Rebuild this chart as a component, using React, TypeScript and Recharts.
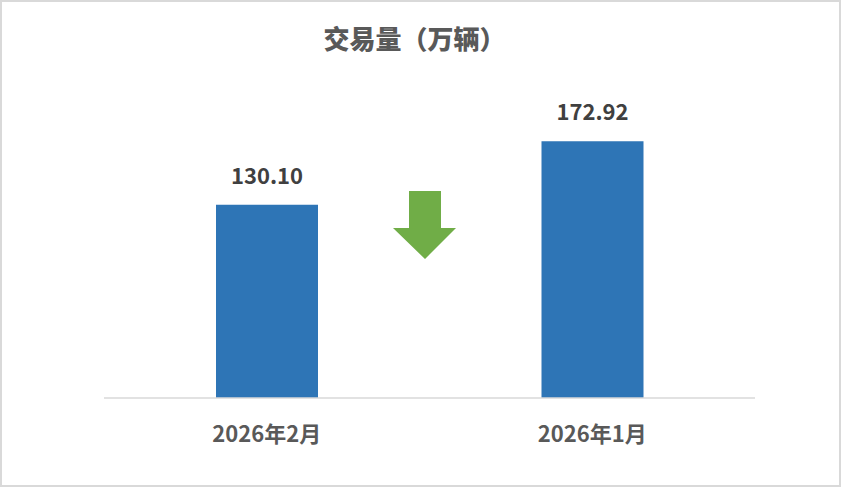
import React from 'react';
import { BarChart, Bar, XAxis, YAxis, LabelList } from 'recharts';

const categories = ['2026年2月', '2026年1月'];
const volumes = [130.1, 172.92];
const title = '交易量（万辆）';

const data = categories.map((c, i) => ({ name: c, value: volumes[i] }));

const FONT = '"Noto Sans CJK SC", "Noto Sans", sans-serif';

const Tick = (props: any) => {
  const { x, y, payload } = props;
  return (
    <text x={x} y={y} dy={36} textAnchor="middle" fill="#595959" fontSize={22} fontWeight={700} fontFamily={FONT}>
      {payload.value}
    </text>
  );
};

export default function App() {
  return (
    <div style={{ position: 'absolute', left: 0, top: 0, width: 841, height: 487, background: '#fff', fontFamily: FONT }}>
      <BarChart width={841} height={487} data={data} margin={{ top: 101, right: 86, bottom: 59, left: 104 }} barCategoryGap={0}>
        <XAxis dataKey="name" axisLine={{ stroke: '#D9D9D9', strokeWidth: 1.5 }} tickLine={false} tick={<Tick />} height={30} interval={0} />
        <YAxis hide domain={[0, 200]} />
        <Bar dataKey="value" fill="#2E75B6" barSize={102} isAnimationActive={false}>
          <LabelList dataKey="value" position="top" offset={21} formatter={(v: any) => Number(v).toFixed(2)} fill="#404040" fontSize={22} fontWeight={700} fontFamily={FONT} />
        </Bar>
      </BarChart>
      <div style={{ position: 'absolute', left: -6, top: 23, width: 841, textAlign: 'center', fontSize: 26, fontWeight: 800, color: '#595959', lineHeight: '30px' }}>
        {title}
      </div>
      <svg style={{ position: 'absolute', left: 0, top: 0, pointerEvents: 'none' }} width={841} height={487}>
        <polygon points="409,191 441,191 441,228 456,228 425,259 393,228 409,228" fill="#70AD47" />
      </svg>
      <div style={{ position: 'absolute', left: 0, top: 0, width: 841, height: 487, boxSizing: 'border-box', border: '2px solid #D9D9D9', pointerEvents: 'none' }} />
    </div>
  );
}
